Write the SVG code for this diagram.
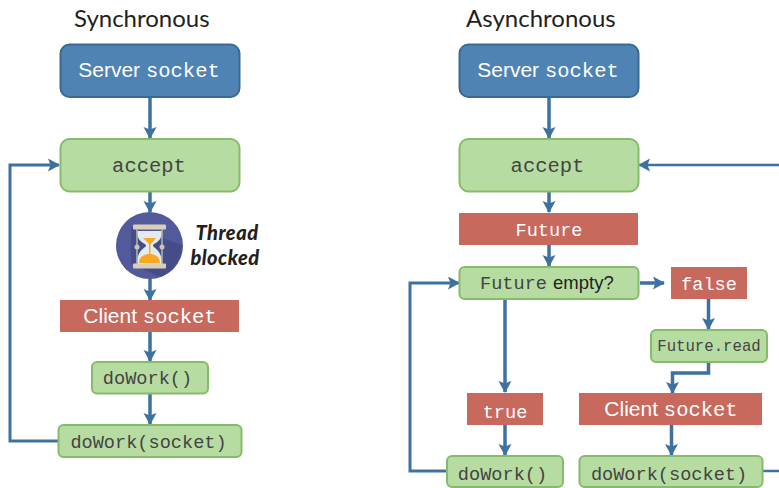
<svg xmlns="http://www.w3.org/2000/svg" width="779" height="488" viewBox="0 0 779 488">
<style>
text{text-anchor:middle}
.title{font:24px Lato,"Liberation Sans",sans-serif;fill:#231f20;text-anchor:start}
.blue{fill:#4f83b3;stroke:#3a6a94;stroke-width:2}
.green{fill:#b7dca2;stroke:#86bb6d;stroke-width:2}
.red{fill:#c7695c}
.s{font-family:"Liberation Sans",Arial,sans-serif}
.m{font-family:"Liberation Mono","Courier New",monospace}
.w{fill:#fff}
.k{fill:#444}
.c{fill:none;stroke:#3d72a0;stroke-width:3.5;marker-end:url(#a)}
.n{fill:none;stroke:#3d72a0;stroke-width:2.5}
.tb{font:italic 900 20px Lato,"Liberation Sans",sans-serif;fill:#231f20;letter-spacing:.5px}
</style>
<defs>
<marker id="a" markerUnits="userSpaceOnUse" markerWidth="14" markerHeight="14" refX="11" refY="6.5" orient="auto"><path d="M0 0L12 6.5L0 13L2.500 6.500Z" fill="#3d72a0"/></marker>
</defs>
<text class="title" x="74" y="27">Synchronous</text>
<text class="title" x="466" y="27">Asynchronous</text>
<g id="connectors">
<path class="c" d="M150 97V138"/>
<path class="c" d="M150 192V212"/>
<path class="c" d="M150 278V300"/>
<path class="c" d="M150 332V361"/>
<path class="c" d="M150 394V424"/>
<path class="c" style="stroke-width:3" d="M58 441H10V165H59"/>
<path class="c" d="M549 97V138"/>
<path class="c" d="M549 192V212"/>
<path class="c" d="M549 245V266"/>
<path class="c" d="M640 283H664"/>
<path class="c" d="M505 299V392"/>
<path class="c" d="M708.500 299V329"/>
<path class="c" d="M708.500 362V373H672.500V393"/>
<path class="c" d="M505 425V455"/>
<path class="c" d="M671.500 425V455"/>
<path class="c" style="stroke-width:3" d="M447 471H410V283H459"/>
<path class="c" style="stroke-width:2.500" d="M779 165H639"/>
<path class="n" d="M763 471H779"/>
</g>
<g id="s-server"><rect class="blue" x="60.500" y="44.500" width="179" height="52.500" rx="9"/><text x="149" y="77"><tspan class="s w" font-size="21">Server </tspan><tspan class="m w" font-size="20.500">socket</tspan></text></g>
<g id="s-accept"><rect class="green" x="60.500" y="139" width="179" height="52.500" rx="9"/><text class="m k" x="149" y="172" font-size="20.500">accept</text></g>
<g id="hourglass">
<circle cx="149.500" cy="245.500" r="33.500" fill="#535a9b"/>
<path d="M131 227L182 245A33.500 33.500 0 0 1 160 277L131 264Z" fill="#454c88"/>
<path d="M137 231H162C162 243 153 243 153 245.500C153 248 162 249 162 264H137C137 249 146 248 146 245.500C146 243 137 243 137 231Z" fill="#e4ebee"/>
<path d="M143 238H156L150 245Z" fill="#f7a823"/>
<rect x="149" y="244" width="1.500" height="12" fill="#f7a823"/>
<path d="M139 263C139 256 145 254 149.500 254C154 254 160 256 160 263Z" fill="#f7a823"/>
<rect x="133" y="224.500" width="33" height="5" rx="1" fill="#d9cfb7"/>
<rect x="133" y="263.500" width="33" height="5" rx="1" fill="#d9cfb7"/>
<path d="M137 229V264M162 229V264" stroke="#b5b5ac" stroke-width="1.500"/>
<circle cx="137" cy="247" r="2.500" fill="#c9c5b2"/><circle cx="162" cy="247" r="2.500" fill="#c9c5b2"/>
</g>
<g id="thread-label"><text class="tb" x="227" y="240">Thread</text><text class="tb" x="225" y="265">blocked</text></g>
<g id="s-client"><rect class="red" x="60" y="300" width="179" height="32"/><text x="150" y="323"><tspan class="s w" font-size="21">Client </tspan><tspan class="m w" font-size="20.500">socket</tspan></text></g>
<g id="s-dowork"><rect class="green" x="92" y="362" width="116" height="31.500" rx="5"/><text class="m k" x="147.500" y="384" font-size="18.600">doWork()</text></g>
<g id="s-dowork-socket"><rect class="green" x="58.500" y="425" width="183" height="32" rx="5"/><text class="m k" x="148.500" y="448" font-size="18.600">doWork(socket)</text></g>
<g id="a-server"><rect class="blue" x="459.500" y="44.500" width="179" height="52.500" rx="9"/><text x="548" y="77"><tspan class="s w" font-size="21">Server </tspan><tspan class="m w" font-size="20.500">socket</tspan></text></g>
<g id="a-accept"><rect class="green" x="459.500" y="139" width="179" height="52.500" rx="9"/><text class="m k" x="547.500" y="172" font-size="20.500">accept</text></g>
<g id="a-future"><rect class="red" x="459" y="213" width="179" height="32"/><text class="m w" x="549" y="236" font-size="18.600">Future</text></g>
<g id="a-empty"><rect class="green" x="459.500" y="267" width="179" height="32" rx="5"/><text y="289" style="text-anchor:start"><tspan class="m k" x="480" font-size="18.600">Future</tspan><tspan class="s" x="553" fill="#222" font-size="18.500">empty?</tspan></text></g>
<g id="a-false"><rect class="red" x="671" y="267" width="76" height="32"/><text class="m w" x="709" y="290" font-size="18.600">false</text></g>
<g id="a-read"><rect class="green" x="651" y="330" width="116" height="32" rx="5"/><text class="m k" x="709" y="351" font-size="15.700">Future.read</text></g>
<g id="a-true"><rect class="red" x="467" y="393" width="76" height="32"/><text class="m w" x="505" y="418" font-size="18.600">true</text></g>
<g id="a-client"><rect class="red" x="579" y="393" width="183" height="32"/><text x="671" y="416"><tspan class="s w" font-size="21">Client </tspan><tspan class="m w" font-size="20.500">socket</tspan></text></g>
<g id="a-dowork"><rect class="green" x="447" y="456" width="116" height="31" rx="5"/><text class="m k" x="502.500" y="480" font-size="18.600">doWork()</text></g>
<g id="a-dowork-socket"><rect class="green" x="579.500" y="456" width="183" height="31" rx="5"/><text class="m k" x="669" y="480" font-size="18.600">doWork(socket)</text></g>
</svg>
